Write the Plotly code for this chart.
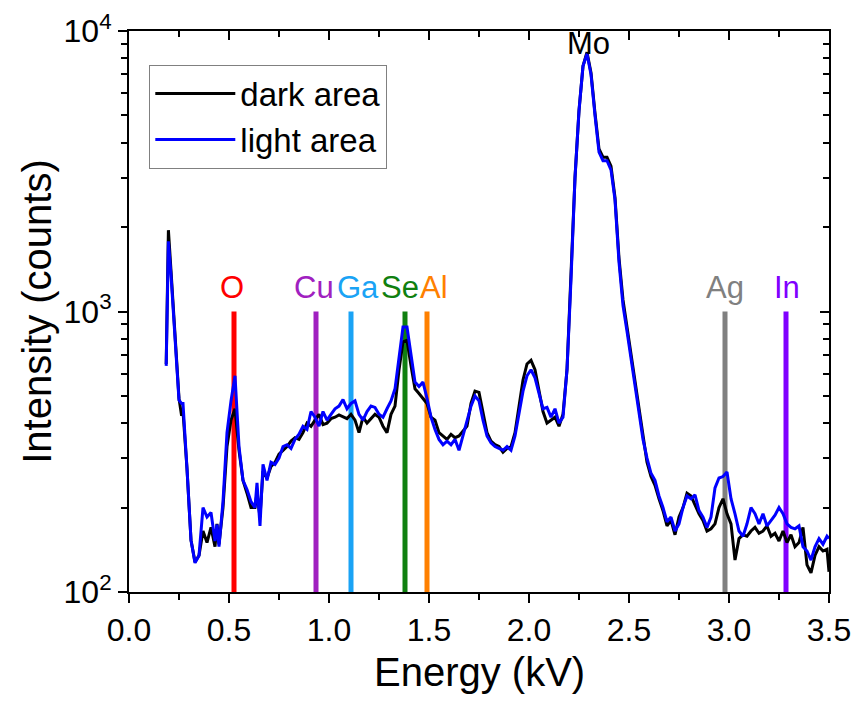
import plotly.graph_objects as go

energy = [0.186, 0.197, 0.21, 0.23, 0.25, 0.263, 0.27, 0.29, 0.31, 0.33, 0.35, 0.37, 0.39, 0.41,
          0.43, 0.44, 0.45, 0.47, 0.49, 0.51, 0.53, 0.55, 0.57, 0.59, 0.61, 0.63, 0.64, 0.655,
          0.67, 0.69, 0.71, 0.73, 0.75, 0.77, 0.79, 0.81, 0.83, 0.85, 0.87, 0.89, 0.91, 0.93,
          0.95, 0.97, 0.99, 1.01, 1.03, 1.05, 1.07, 1.09, 1.11, 1.13, 1.15, 1.17, 1.19, 1.21,
          1.23, 1.25, 1.27, 1.29, 1.31, 1.33, 1.35, 1.37, 1.39, 1.41, 1.43, 1.45, 1.47, 1.49,
          1.51, 1.53, 1.55, 1.57, 1.59, 1.61, 1.63, 1.65, 1.67, 1.69, 1.71, 1.73, 1.75, 1.77,
          1.79, 1.81, 1.83, 1.85, 1.87, 1.89, 1.91, 1.93, 1.95, 1.97, 1.99, 2.01, 2.03, 2.05,
          2.07, 2.09, 2.11, 2.13, 2.15, 2.17, 2.19, 2.21, 2.23, 2.25, 2.27, 2.29, 2.31, 2.33,
          2.35, 2.37, 2.39, 2.41, 2.43, 2.45, 2.47, 2.49, 2.51, 2.53, 2.55, 2.57, 2.59, 2.61,
          2.63, 2.65, 2.67, 2.69, 2.71, 2.73, 2.75, 2.77, 2.79, 2.81, 2.83, 2.85, 2.87, 2.89,
          2.91, 2.93, 2.95, 2.97, 2.99, 3.01, 3.03, 3.05, 3.07, 3.09, 3.11, 3.13, 3.15, 3.17,
          3.19, 3.21, 3.23, 3.25, 3.27, 3.29, 3.31, 3.33, 3.35, 3.37, 3.39, 3.41, 3.43, 3.45,
          3.47, 3.49, 3.5]

dark_area = [650, 1950, 1400, 800, 490, 425, 440, 275, 153, 128, 135, 165, 150, 170,
             145, 175, 148, 200, 330, 410, 450, 320, 250, 225, 200, 200, 225, 185,
             270, 255, 280, 290, 310, 320, 330, 345, 355, 350, 370, 400, 390, 410,
             430, 395, 400, 415, 420, 428, 420, 415, 430, 410, 370, 420, 400, 415,
             430, 420, 390, 370, 430, 460, 620, 780, 790, 640, 530, 510, 490, 470,
             420, 410, 370, 360, 350, 365, 355, 360, 375, 390, 470, 520, 515, 430,
             370, 345, 335, 330, 315, 325, 330, 370, 460, 570, 650, 670, 620, 530,
             440, 400, 410, 420, 390, 430, 620, 1300, 3000, 5200, 7500, 8400, 7100, 5100,
             3800, 3550, 3550, 3300, 2550, 1550, 1100, 880, 700, 560, 450, 360, 290, 258,
             240, 215, 195, 172, 180, 160, 185, 200, 225, 220, 205, 190, 180, 165,
             168, 175, 200, 215, 190, 175, 130, 155, 160, 158, 165, 170, 162, 165,
             172, 158, 162, 152, 165, 150, 160, 145, 150, 170, 125, 117, 135, 145,
             140, 142, 118]

light_area = [640, 1780, 1350, 785, 483, 470, 470, 275, 153, 127, 135, 200, 185, 192,
              152, 174, 145, 210, 370, 480, 590, 330, 250, 232, 210, 200, 245, 172,
              285, 250, 290, 285, 300, 330, 335, 325, 350, 365, 390, 380, 440, 420,
              390, 440, 410, 430, 450, 460, 485, 450, 470, 480, 430, 410, 440, 460,
              455, 430, 420, 450, 480, 530, 700, 880, 880, 700, 560, 540, 560, 490,
              420, 380, 350, 335, 345, 335, 350, 320, 360, 400, 460, 500, 480, 410,
              360, 340, 330, 325, 320, 330, 320, 360, 430, 520, 590, 620, 580, 510,
              450, 455, 420, 450, 400, 420, 620, 1300, 3000, 5200, 7500, 8300, 7000, 5000,
              3700, 3450, 3450, 3200, 2500, 1500, 1050, 850, 680, 540, 430, 350, 300, 265,
              250, 220, 200, 178, 185, 165, 175, 200, 220, 215, 222, 195, 185, 170,
              185, 235, 255, 258, 268, 215, 190, 165, 158, 175, 200, 190, 175, 190,
              172, 180, 188, 200, 190, 175, 170, 168, 172, 145, 140, 130, 145, 155,
              148, 158, 155]

elements = ["O", "Cu", "Ga", "Se", "Al", "Ag", "In"]
element_energy = [0.525, 0.935, 1.11, 1.38, 1.49, 2.98, 3.285]
label_energy = [0.515, 0.925, 1.145, 1.355, 1.525, 2.98, 3.29]
element_colors = ["#FF0000", "#A020C0", "#1AA3F5", "#108010", "#FF8000", "#808080", "#8000FF"]
marker_low, marker_high = 100, 1000

x_tickvals = [0.0, 0.5, 1.0, 1.5, 2.0, 2.5, 3.0, 3.5]
y_tickvals = [100, 1000, 10000]
y_ticktext = ["10<sup>2</sup>", "10<sup>3</sup>", "10<sup>4</sup>"]
y_minor = [m * d for d in (100, 1000) for m in range(2, 10)]

FONT = "Liberation Sans, Arial, sans-serif"

fig = go.Figure()

for name, e, c in zip(elements, element_energy, element_colors):
    fig.add_trace(go.Scatter(x=[e, e], y=[marker_low, marker_high], mode="lines",
                             line=dict(color=c, width=5), showlegend=False, hoverinfo="skip"))

fig.add_trace(go.Scatter(x=energy, y=dark_area, mode="lines", name="dark area",
                         line=dict(color="black", width=3)))
fig.add_trace(go.Scatter(x=energy, y=light_area, mode="lines", name="light area",
                         line=dict(color="#0000FF", width=3)))

# invisible trace for mirrored (inside-tick) axes
fig.add_trace(go.Scatter(x=[0, 3.5], y=[100, 10000], xaxis="x2", yaxis="y2", mode="lines",
                         line=dict(width=0), showlegend=False, hoverinfo="skip", opacity=0))

for name, e, c in zip(elements, label_energy, element_colors):
    fig.add_annotation(x=e, y=3.084, xref="x", yref="y", text=name, showarrow=False,
                       font=dict(family=FONT, size=31, color=c), yanchor="middle")
fig.add_annotation(x=2.295, y=3.955, xref="x", yref="y", text="Mo", showarrow=False,
                   font=dict(family=FONT, size=31, color="black"), yanchor="middle")
fig.add_annotation(x=0.5, y=-0.142, xref="paper", yref="paper", text="Energy (kV)",
                   showarrow=False, font=dict(family=FONT, size=40, color="black"),
                   xanchor="center", yanchor="middle")

axis_common = dict(showline=True, linecolor="black", linewidth=2, showgrid=False,
                   zeroline=False, automargin=False)

fig.update_layout(
    width=856, height=702,
    margin=dict(l=129, r=27, t=31, b=110),
    paper_bgcolor="white", plot_bgcolor="white",
    font=dict(family=FONT, color="black"),
    xaxis=dict(range=[0, 3.5], tickvals=x_tickvals, tickformat=".1f", ticks="outside",
               ticklen=9, tickwidth=2, tickcolor="black",
               tickfont=dict(size=32, family=FONT),
               minor=dict(dtick=0.25, tick0=0, ticks="outside", ticklen=6, tickwidth=2, tickcolor="black"),
               **axis_common),
    yaxis=dict(type="log", range=[2, 4], tickvals=y_tickvals, ticktext=y_ticktext,
               ticks="outside", ticklen=9, tickwidth=2, tickcolor="black",
               tickfont=dict(size=32, family=FONT),
               minor=dict(tickvals=y_minor, ticks="outside", ticklen=6, tickwidth=2, tickcolor="black"),
               title=dict(text="Intensity (counts)", font=dict(size=40, family=FONT), standoff=0),
               **axis_common),
    xaxis2=dict(overlaying="x", side="top", range=[0, 3.5], tickvals=x_tickvals,
                showticklabels=False, ticks="inside", ticklen=9, tickwidth=2, tickcolor="black",
                minor=dict(dtick=0.25, tick0=0, ticks="inside", ticklen=6, tickwidth=2, tickcolor="black"),
                **axis_common),
    yaxis2=dict(overlaying="y", side="right", type="log", range=[2, 4], tickvals=y_tickvals,
                showticklabels=False, ticks="inside", ticklen=9, tickwidth=2, tickcolor="black",
                minor=dict(tickvals=y_minor, ticks="inside", ticklen=6, tickwidth=2, tickcolor="black"),
                **axis_common),
    legend=dict(x=0.029, y=0.94, xanchor="left", yanchor="top",
                bordercolor="#808080", borderwidth=1, bgcolor="white",
                font=dict(size=33, family=FONT), tracegroupgap=0, itemwidth=80),
    showlegend=True,
)

fig.write_html("out.html")
